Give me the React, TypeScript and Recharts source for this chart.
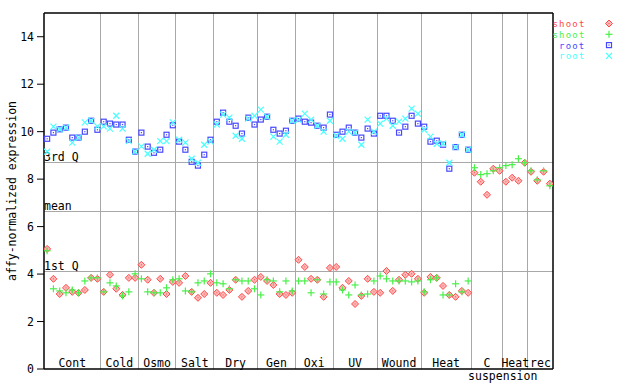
import React from 'react';
import { ComposedChart, Scatter, XAxis, YAxis, ReferenceLine } from 'recharts';

const FONT = '"DejaVu Sans Mono", monospace';

const groupNames = ['Cont', 'Cold', 'Osmo', 'Salt', 'Dry', 'Gen', 'Oxi', 'UV', 'Wound', 'Heat', 'C', 'Heat', 'rec'];
const groupSizes = [9, 6, 6, 6, 7, 6, 6, 7, 7, 8, 5, 4, 4];
const subLabel = { text: 'suspension', afterGroup: 10 };

const shootRed: (number | null)[] = [
  5.06, 3.80, 3.16, 3.42, 3.25, 3.21, 3.33, 3.84, 3.80,
  3.25, 3.97, 3.38, 3.12, 3.84, 3.84,
  4.39, 3.76, 3.21, 3.80, 3.16, 3.67,
  3.63, 3.92, 3.25, 3.00, 3.16, 3.63,
  3.21, 3.12, 3.33, 3.76, 3.04, 3.29, 3.76,
  3.88, 3.71, 3.54, 3.16, 3.12, 3.21,
  4.60, 4.30, 3.80, 3.76, 3.04, 4.26,
  4.30, 3.42, 3.71, 2.74, 3.08, 3.80, 3.25,
  3.21, 4.13, 3.29, 3.76, 3.97, 4.01, 3.80,
  3.21, 3.88, 3.84, 3.50, 3.12, 3.04, 3.29, 3.21,
  8.27, 7.89, 7.34, 8.44, 8.35,
  7.89, 8.06, 7.93, 8.69,
  8.31, 7.93, 8.31, 7.81,
];

const shootGreen: (number | null)[] = [
  4.98, 3.38, 3.29, 3.21, 3.33, 3.21, 3.71, 3.84, 3.84,
  3.25, 3.63, 3.50, 3.08, 3.25, 4.01,
  3.80, 3.25, 3.21, 3.21, 3.42, 3.76,
  3.80, 3.29, 3.25, 3.63, 3.71, 4.01,
  3.63, 3.59, 3.38, 3.76, 3.71, 3.71, 3.38,
  3.12, 3.76, 3.71, 3.25, 3.71, 3.29,
  3.71, 3.71, 3.21, 3.76, 3.16, 3.67,
  3.67, 3.33, 3.12, 3.54, 3.12, 3.16, 3.71,
  3.92, 3.80, 3.71, 3.71, 3.71, 3.67, 3.71,
  3.25, 3.76, 3.84, 3.12, 3.12, 3.59, 3.25, 3.71,
  8.48, 8.19, 8.23, 8.35, 8.48,
  8.57, 8.61, 8.86, 8.69,
  8.35, 7.97, 8.35, 7.72,
];

const rootBlue: (number | null)[] = [
  9.70, 9.96, 10.10, 10.17, 9.75, 9.75, 10.00, 10.46, 10.08,
  10.42, 10.34, 10.30, 10.30, 9.66, 9.16,
  9.96, 9.37, 9.11, 9.24, 9.87, 10.27,
  9.58, 9.24, 8.73, 8.57, 9.03, 9.66,
  10.42, 10.80, 10.42, 10.25, 9.92, 10.59, 10.30,
  10.51, 10.63, 10.08, 9.92, 10.04, 10.46,
  10.55, 10.42, 10.38, 10.25, 10.17, 10.72,
  9.87, 10.00, 10.17, 9.96, 9.75, 10.13, 9.92,
  10.67, 10.67, 10.46, 9.96, 10.21, 10.67, 10.34,
  10.21, 9.58, 9.62, 9.45, 8.44, 9.35, 9.87, 9.24,
  null, null, null, null, null,
  null, null, null, null,
  null, null, null, null,
];

const rootCyan: (number | null)[] = [
  9.16, 10.21, 10.10, 10.17, 9.54, 9.75, 10.39, 10.46, 10.22,
  10.22, 10.13, 10.67, 10.13, 9.60, 9.16,
  9.38, 9.07, 9.24, 9.60, 9.60, 10.39,
  9.66, 9.54, 8.86, 8.69, 9.45, 9.58,
  10.30, 10.72, 10.59, 9.83, 9.70, 10.55, 10.67,
  10.93, 10.63, 9.79, 9.58, 9.87, 10.46,
  10.50, 10.76, 10.51, 10.25, 10.00, 10.46,
  9.83, 9.70, 10.00, 9.96, 9.45, 10.51, 10.00,
  10.34, 10.55, 10.25, 10.42, 10.55, 10.97, 10.76,
  10.08, 9.79, 9.49, 9.50, 8.69, 9.35, 9.87, 9.24,
  null, null, null, null, null,
  null, null, null, null,
  null, null, null, null,
];

const quartiles = [
  { label: '3rd Q', value: 8.69 },
  { label: 'mean', value: 6.62 },
  { label: '1st Q', value: 4.09 },
];

const yTicks = [0, 2, 4, 6, 8, 10, 12, 14];
const yMax = 15;

const seriesNames = ['shoot', 'shoot', 'root', 'root'];
const seriesColors = ['#ff4848', '#48f048', '#4848ff', '#48ffff'];

const total = groupSizes.reduce((a, b) => a + b, 0);
const boundaries: number[] = [];
const centers: number[] = [];
{
  let acc = 0;
  groupSizes.forEach((s, i) => {
    centers.push(acc + s / 2);
    acc += s;
    if (i < groupSizes.length - 1) boundaries.push(acc);
  });
}

const toPoints = (arr: (number | null)[]) =>
  arr
    .map((v, i) => (v == null ? null : { x: i + 0.5, y: v }))
    .filter((p) => p !== null) as { x: number; y: number }[];

const Diamond = ({ cx, cy, color }: any) => {
  if (cx == null || cy == null) return null;
  const r = 3.5;
  return (
    <g>
      <polygon
        points={`${cx},${cy - r} ${cx + r},${cy} ${cx},${cy + r} ${cx - r},${cy}`}
        fill="#ffb8b8"
        stroke={color}
        strokeWidth={1}
      />
      <rect x={cx - 0.5} y={cy - 0.5} width={1} height={1} fill={color} />
    </g>
  );
};

const Plus = ({ cx, cy, color }: any) => {
  if (cx == null || cy == null) return null;
  const r = 3.5;
  return (
    <g stroke={color} strokeWidth={1.2}>
      <line x1={cx - r} y1={cy} x2={cx + r} y2={cy} />
      <line x1={cx} y1={cy - r} x2={cx} y2={cy + r} />
    </g>
  );
};

const Square = ({ cx, cy, color }: any) => {
  if (cx == null || cy == null) return null;
  const r = 2.5;
  return (
    <g>
      <rect x={cx - r} y={cy - r} width={2 * r} height={2 * r} fill="none" stroke={color} strokeWidth={1.2} />
      <rect x={cx - 0.6} y={cy - 0.6} width={1.2} height={1.2} fill={color} />
    </g>
  );
};

const Cross = ({ cx, cy, color }: any) => {
  if (cx == null || cy == null) return null;
  const r = 3;
  return (
    <g stroke={color} strokeWidth={1.2}>
      <line x1={cx - r} y1={cy - r} x2={cx + r} y2={cy + r} />
      <line x1={cx - r} y1={cy + r} x2={cx + r} y2={cy - r} />
    </g>
  );
};

const shapes = [Diamond, Plus, Square, Cross];
const seriesData = [shootRed, shootGreen, rootBlue, rootCyan];

const GroupTick = (props: any) => {
  const { x, y, payload } = props;
  const idx = centers.indexOf(payload.value);
  const name = idx >= 0 ? groupNames[idx] : '';
  return (
    <text x={x} y={y - 2} textAnchor="middle" fontFamily={FONT} fontSize={11.5} fill="#000">
      {name}
    </text>
  );
};

export default function App() {
  return (
    <div style={{ position: 'absolute', left: 0, top: 0, width: 640, height: 384, background: '#fff' }}>
      <ComposedChart width={640} height={384} margin={{ top: 13, right: 87, bottom: 0, left: 0 }}>
        <XAxis
          type="number"
          dataKey="x"
          domain={[0, total]}
          ticks={centers}
          interval={0}
          tick={<GroupTick />}
          tickLine={false}
          tickSize={0}
          tickMargin={0}
          height={15}
          axisLine={{ stroke: '#000', strokeWidth: 1.5 }}
          allowDataOverflow
        />
        <YAxis
          type="number"
          domain={[0, yMax]}
          ticks={yTicks}
          interval={0}
          width={44}
          tickSize={7}
          tickMargin={3}
          tickLine={{ stroke: '#000' }}
          axisLine={{ stroke: '#000', strokeWidth: 1.5 }}
          tick={{ fontFamily: FONT, fontSize: 11.5, fill: '#000' }}
          allowDataOverflow
          label={{
            content: (p: any) => {
              const vb = p.viewBox || { x: 0, y: 13, width: 44, height: 356 };
              const cx = vb.x + 15.5;
              const cy = vb.y + vb.height / 2;
              return (
                <text
                  x={cx}
                  y={cy}
                  transform={`rotate(-90 ${cx} ${cy})`}
                  textAnchor="middle"
                  fontFamily={FONT}
                  fontSize={11.5}
                  fill="#000"
                >
                  affy-normalized expression
                </text>
              );
            },
          }}
        />
        <YAxis
          yAxisId="right"
          orientation="right"
          mirror
          type="number"
          domain={[0, yMax]}
          ticks={yTicks}
          interval={0}
          width={1}
          tickSize={5}
          tick={false}
          tickLine={{ stroke: '#000' }}
          axisLine={{ stroke: '#000', strokeWidth: 1.5 }}
          allowDataOverflow
        />
        {boundaries.map((b, i) => (
          <ReferenceLine
            key={'b' + i}
            x={b}
            stroke="#a8a8a8"
            strokeWidth={1}
            shapeRendering="crispEdges"
            label={
              i === subLabel.afterGroup - 0
                ? {
                    content: (p: any) => {
                      const vb = p.viewBox;
                      if (!vb) return null;
                      return (
                        <text
                          x={vb.x}
                          y={vb.y + vb.height + 11}
                          textAnchor="middle"
                          fontFamily={FONT}
                          fontSize={11.5}
                          fill="#000"
                        >
                          {subLabel.text}
                        </text>
                      );
                    },
                  }
                : undefined
            }
          />
        ))}
        {quartiles.map((q) => (
          <ReferenceLine
            key={q.label}
            y={q.value}
            stroke="#a8a8a8"
            strokeWidth={1}
            shapeRendering="crispEdges"
            label={{
              content: (p: any) => {
                const vb = p.viewBox;
                if (!vb) return null;
                return (
                  <text x={vb.x} y={vb.y - 1.5} fontFamily={FONT} fontSize={11.5} fill="#000">
                    {q.label}
                  </text>
                );
              },
            }}
          />
        ))}
        <ReferenceLine y={yMax} stroke="#000" strokeWidth={1.5} />
        {seriesData.map((arr, si) => {
          const Shape = shapes[si];
          return (
            <Scatter
              key={'s' + si}
              name={seriesNames[si]}
              data={toPoints(arr)}
              dataKey="y"
              fill={seriesColors[si]}
              isAnimationActive={false}
              shape={(p: any) => <Shape cx={p.cx} cy={p.cy} color={seriesColors[si]} />}
            />
          );
        })}
      </ComposedChart>
      <svg
        width={640}
        height={384}
        style={{ position: 'absolute', left: 0, top: 0, pointerEvents: 'none' }}
      >
        {seriesNames.map((n, i) => {
          const Shape = shapes[i];
          const baseY = 27 + i * 10.8;
          return (
            <g key={'lg' + i}>
              <text
                x={585.5}
                y={baseY}
                textAnchor="end"
                fontFamily={FONT}
                fontSize={9}
                letterSpacing={1.2}
                fill={seriesColors[i]}
              >
                {n}
              </text>
              <Shape cx={609} cy={baseY - 3.5} color={seriesColors[i]} />
            </g>
          );
        })}
      </svg>
    </div>
  );
}
